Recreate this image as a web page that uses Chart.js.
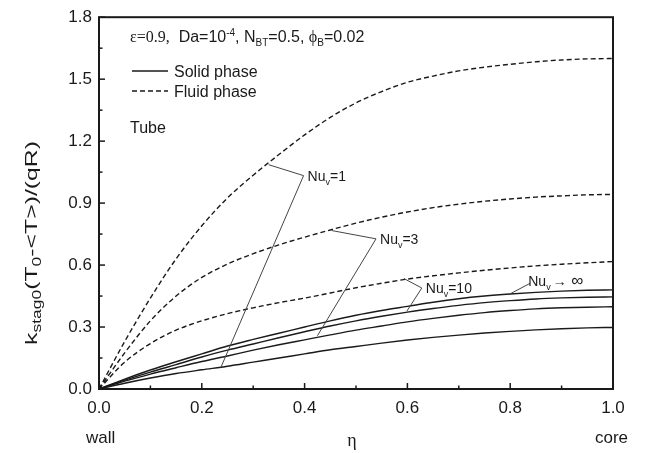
<!DOCTYPE html>
<html>
<head>
<meta charset="utf-8">
<script src="https://cdn.jsdelivr.net/npm/chart.js@4"></script>
<style>
  html, body { margin: 0; padding: 0; background: #fff; }
  #wrap { width: 647px; height: 453px; }
</style>
</head>
<body>
<div id="wrap"><canvas id="chart" width="647" height="453"></canvas></div>
<script>
// eta grid (wall -> core)
const eta = [0, 0.05, 0.1, 0.15, 0.2, 0.25, 0.3, 0.35, 0.4, 0.45, 0.5,
  0.55, 0.6, 0.65, 0.7, 0.75, 0.8, 0.85, 0.9, 0.95, 1.0];

// fluid phase (dashed)
const fluidNu1 = [0, 0.23, 0.44, 0.63, 0.79, 0.925, 1.035, 1.135, 1.23, 1.315, 1.385,
  1.44, 1.485, 1.515, 1.54, 1.558, 1.572, 1.584, 1.593, 1.598, 1.60];
const fluidNu3 = [0, 0.175, 0.33, 0.45, 0.54, 0.605, 0.655, 0.698, 0.735, 0.77, 0.803,
  0.832, 0.857, 0.878, 0.895, 0.909, 0.92, 0.929, 0.935, 0.94, 0.942];
const fluidNu10 = [0, 0.13, 0.22, 0.285, 0.33, 0.365, 0.393, 0.418, 0.44, 0.465, 0.49,
  0.512, 0.532, 0.548, 0.562, 0.575, 0.586, 0.596, 0.604, 0.611, 0.617];

// solid phase (solid lines)
const solidNu1 = [0, 0.028, 0.053, 0.075, 0.093, 0.11, 0.13, 0.15, 0.17, 0.19, 0.206,
  0.222, 0.237, 0.25, 0.261, 0.271, 0.279, 0.286, 0.292, 0.296, 0.298];
const solidNu3 = [0, 0.038, 0.072, 0.103, 0.133, 0.16, 0.188, 0.214, 0.238, 0.262, 0.285,
  0.305, 0.325, 0.342, 0.357, 0.37, 0.38, 0.388, 0.393, 0.396, 0.398];
const solidNu10 = [0, 0.043, 0.082, 0.118, 0.155, 0.188, 0.218, 0.248, 0.277, 0.305, 0.33,
  0.352, 0.372, 0.39, 0.405, 0.418, 0.428, 0.436, 0.441, 0.444, 0.446];
const solidNuInf = [0, 0.048, 0.092, 0.132, 0.17, 0.208, 0.24, 0.27, 0.30, 0.33, 0.357,
  0.38, 0.40, 0.42, 0.437, 0.45, 0.46, 0.468, 0.474, 0.478, 0.48];

const xTicks = [0, 0.2, 0.4, 0.6, 0.8, 1.0];
const yTicks = [0, 0.3, 0.6, 0.9, 1.2, 1.5, 1.8];

// leader lines for the Nu_v labels, in data units: [start, kink, end]
const leaders = [
  { label: "1", pts: [[0.33, 1.086], [0.398, 1.033], [0.237, 0.104]] },
  { label: "3", pts: [[0.453, 0.767], [0.539, 0.727], [0.425, 0.258]] },
  { label: "10", pts: [[0.593, 0.535], [0.628, 0.489], [0.599, 0.377]] },
  { label: "inf", pts: [[0.797, 0.457], [0.839, 0.512]] },
];

const SANS = "'Liberation Sans', Arial, sans-serif";
const SERIF = "'Liberation Serif', 'Times New Roman', serif";
const INK = "#1a1a1a";

function toPoints(vals) {
  return eta.map((x, i) => ({ x: x, y: vals[i] }));
}

function lineSet(vals, dashed) {
  return {
    data: toPoints(vals),
    borderColor: INK,
    borderWidth: 1.4,
    borderDash: dashed ? [5, 3] : [],
    pointRadius: 0,
    fill: false,
    cubicInterpolationMode: "monotone",
  };
}

// draws a run of text pieces (size, font, vertical shift) from x
function drawRich(ctx, x, y, parts) {
  let cx = x;
  parts.forEach((p) => {
    ctx.font = p.size + "px " + (p.serif ? SERIF : SANS);
    ctx.fillText(p.t, cx, y + (p.dy || 0));
    cx += ctx.measureText(p.t).width;
  });
  return cx - x;
}

function richWidth(ctx, parts) {
  let w = 0;
  parts.forEach((p) => {
    ctx.font = p.size + "px " + (p.serif ? SERIF : SANS);
    w += ctx.measureText(p.t).width;
  });
  return w;
}

const decorPlugin = {
  id: "decor",
  afterDraw(chart) {
    const ctx = chart.ctx;
    const a = chart.chartArea;
    const xs = chart.scales.x;
    const ys = chart.scales.y;
    ctx.save();

    // frame
    ctx.strokeStyle = INK;
    ctx.lineWidth = 2;
    ctx.strokeRect(a.left, a.top, a.right - a.left, a.bottom - a.top);

    // inward ticks
    ctx.lineWidth = 1.5;
    for (let i = 0; i <= 10; i++) {
      const px = xs.getPixelForValue(i / 10);
      const len = i % 2 === 0 ? 6 : 3.5;
      ctx.beginPath();
      ctx.moveTo(px, a.bottom);
      ctx.lineTo(px, a.bottom - len);
      ctx.stroke();
    }
    for (let i = 0; i <= 12; i++) {
      const py = ys.getPixelForValue(i * 0.15);
      const len = i % 2 === 0 ? 6 : 3.5;
      ctx.beginPath();
      ctx.moveTo(a.left, py);
      ctx.lineTo(a.left + len, py);
      ctx.stroke();
    }

    // leader lines
    ctx.strokeStyle = "#444";
    ctx.lineWidth = 1;
    leaders.forEach((ld) => {
      ctx.beginPath();
      ld.pts.forEach((p, i) => {
        const px = xs.getPixelForValue(p[0]);
        const py = ys.getPixelForValue(p[1]);
        if (i === 0) ctx.moveTo(px, py);
        else ctx.lineTo(px, py);
      });
      ctx.stroke();
    });

    // leader labels
    ctx.fillStyle = INK;
    ctx.textBaseline = "alphabetic";
    leaders.forEach((ld) => {
      const k = ld.pts[1];
      const px = xs.getPixelForValue(k[0]) + 4;
      const py = ys.getPixelForValue(k[1]) + 5;
      if (ld.label === "inf") {
        const w = drawRich(ctx, px - 6, py - 2, [
          { t: "Nu", size: 14 },
          { t: "v", size: 9, dy: 4 },
        ]);
        drawRich(ctx, px - 6 + w + 2, py - 2, [
          { t: "\u2192", size: 14 },
          { t: " \u221E", size: 17 },
        ]);
      } else {
        drawRich(ctx, px, py, [
          { t: "Nu", size: 14 },
          { t: "v", size: 9, dy: 4 },
          { t: "=" + ld.label, size: 14 },
        ]);
      }
    });

    // parameter line
    drawRich(ctx, 130, 42, [
      { t: "\u03B5=0.9,", size: 16, serif: true },
      { t: "  Da=10", size: 16 },
      { t: "-4", size: 10, dy: -6 },
      { t: ", N", size: 16 },
      { t: "BT", size: 10, dy: 4 },
      { t: "=0.5, ", size: 16 },
      { t: "\u03D5", size: 16, serif: true },
      { t: "B", size: 10, dy: 4 },
      { t: "=0.02", size: 16 },
    ]);

    // legend
    ctx.strokeStyle = INK;
    ctx.lineWidth = 1.4;
    ctx.beginPath();
    ctx.moveTo(132, 71);
    ctx.lineTo(168, 71);
    ctx.stroke();
    ctx.setLineDash([5, 3]);
    ctx.beginPath();
    ctx.moveTo(132, 91);
    ctx.lineTo(168, 91);
    ctx.stroke();
    ctx.setLineDash([]);
    ctx.font = "16px " + SANS;
    ctx.fillText("Solid phase", 174, 77);
    ctx.fillText("Fluid phase", 174, 97);
    ctx.fillText("Tube", 130, 133);

    // axis captions
    ctx.font = "17px " + SANS;
    ctx.fillText("wall", 86, 443);
    ctx.textAlign = "right";
    ctx.fillText("core", 628, 443);
    ctx.textAlign = "center";
    ctx.font = "18px " + SERIF;
    ctx.fillText("\u03B7", 352, 446);
    ctx.textAlign = "left";

    // y title with subscripts, stretched along its length like the source
    const tparts = [
      { t: "k", size: 17 },
      { t: "stag0", size: 12, dy: 4 },
      { t: "(T", size: 17 },
      { t: "0", size: 12, dy: 4 },
      { t: "-<T>)/(qR)", size: 17 },
    ];
    ctx.translate(37, 243);
    ctx.rotate(-Math.PI / 2);
    const tw = richWidth(ctx, tparts);
    ctx.scale(204 / tw, 1);
    drawRich(ctx, -tw / 2, 0, tparts);
    ctx.restore();
  },
};

const datasets = [
  lineSet(fluidNu1, true),
  lineSet(fluidNu3, true),
  lineSet(fluidNu10, true),
  lineSet(solidNu1, false),
  lineSet(solidNu3, false),
  lineSet(solidNu10, false),
  lineSet(solidNuInf, false),
];

new Chart(document.getElementById("chart"), {
  type: "line",
  data: { datasets: datasets },
  options: {
    responsive: false,
    animation: false,
    layout: { padding: { top: 12, right: 34, left: 0, bottom: 0 } },
    plugins: { legend: { display: false }, tooltip: { enabled: false } },
    scales: {
      x: {
        type: "linear",
        min: 0,
        max: 1,
        afterFit(s) { s.height = 64; },
        afterBuildTicks(s) { s.ticks = xTicks.map((v) => ({ value: v })); },
        grid: { display: false, drawTicks: false },
        border: { display: false },
        ticks: {
          padding: 9,
          color: INK,
          font: { family: SANS, size: 17 },
          callback: (v) => v.toFixed(1),
        },
      },
      y: {
        type: "linear",
        min: 0,
        max: 1.8,
        afterFit(s) { s.width = 99; },
        afterBuildTicks(s) { s.ticks = yTicks.map((v) => ({ value: v })); },
        grid: { display: false, drawTicks: false },
        border: { display: false },
        ticks: {
          padding: 7,
          color: INK,
          font: { family: SANS, size: 17 },
          callback: (v) => v.toFixed(1),
        },
      },
    },
  },
  plugins: [decorPlugin],
});
</script>
</body>
</html>
